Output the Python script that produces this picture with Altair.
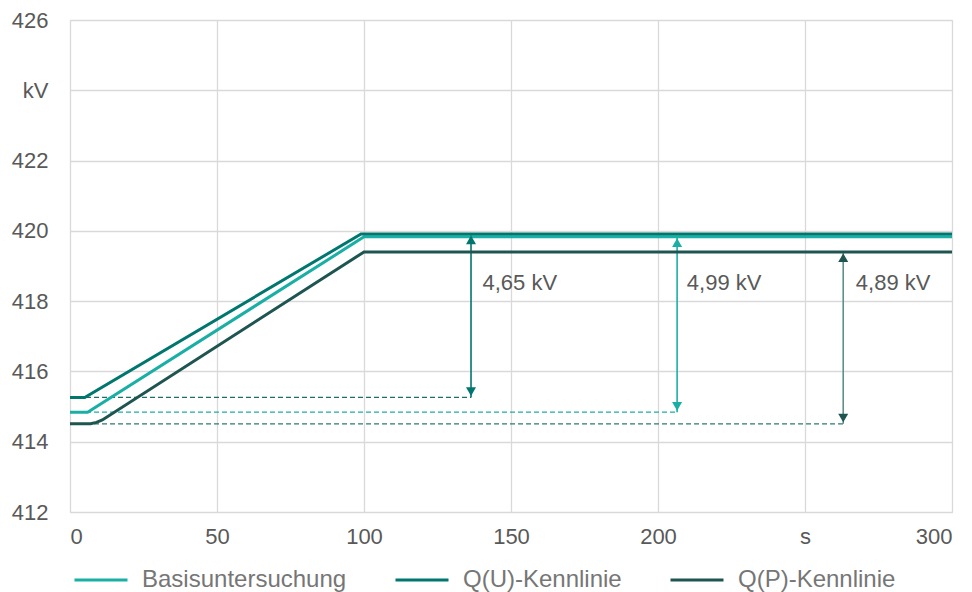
import altair as alt
import pandas as pd

# Series data (time in s, voltage in kV)
series_names = ["Basisuntersuchung", "Q(U)-Kennlinie", "Q(P)-Kennlinie"]
series_colors = ["#1AAFA5", "#00776E", "#1E5550"]

t_basis = [0, 6, 100, 300]
v_basis = [414.84, 414.84, 419.83, 419.83]
t_qu = [0, 5, 99, 300]
v_qu = [415.26, 415.26, 419.91, 419.91]
t_qp = [0, 7, 9, 11, 100, 300]
v_qp = [414.51, 414.51, 414.55, 414.62, 419.40, 419.40]

# Annotations (difference arrows)
ann_x = [136.4, 206.5, 263.0]
ann_low = [415.26, 414.84, 414.51]
ann_high = [419.91, 419.83, 419.40]
ann_text = ["4,65 kV", "4,99 kV", "4,89 kV"]
ann_text_x = [140.3, 209.8, 267.3]
ann_text_y = [418.52, 418.52, 418.52]
ann_shaft_color = ["#00776E", "#1AAFA5", "#5E8F8B"]
ann_head_color = ["#00776E", "#1AAFA5", "#1E5550"]
ann_dash_color = ["#1E6E68", "#1AAFA5", "#2F7A74"]

x_ticks = [0, 50, 100, 150, 200, 250, 300]
y_ticks = [412, 414, 416, 418, 420, 422, 424, 426]

rows = []
for name, ts, vs in [(series_names[0], t_basis, v_basis),
                     (series_names[1], t_qu, v_qu),
                     (series_names[2], t_qp, v_qp)]:
    for i, (t, v) in enumerate(zip(ts, vs)):
        rows.append({"series": name, "t": t, "v": v, "order": i})
df = pd.DataFrame(rows)

ann = pd.DataFrame({
    "x": ann_x, "low": ann_low, "high": ann_high, "text": ann_text,
    "tx": ann_text_x, "ty": ann_text_y,
    "shaft": ann_shaft_color, "head": ann_head_color, "dash": ann_dash_color,
    "x0": [0, 0, 0],
})

FONT = "Liberation Sans"
TXT = "#595959"

xscale = alt.Scale(domain=[0, 300], nice=False, zero=False)
yscale = alt.Scale(domain=[412, 426], nice=False, zero=False)

x_axis = alt.Axis(values=x_ticks, title=None, grid=True, gridColor="#D9D9D9",
                  gridWidth=1.3, domain=False, ticks=False, labelFont=FONT,
                  labelFontSize=22, labelColor=TXT, labelPadding=14,
                  labelExpr="datum.value == 250 ? 's' : datum.label")
y_axis = alt.Axis(values=y_ticks, title=None, grid=True, gridColor="#D9D9D9",
                  gridWidth=1.3, domain=False, ticks=False, labelFont=FONT,
                  labelFontSize=22, labelColor=TXT, labelPadding=22,
                  labelExpr="datum.value == 424 ? 'kV' : datum.label")

lines = alt.Chart(df).mark_line(strokeWidth=3).encode(
    x=alt.X("t:Q", scale=xscale, axis=x_axis),
    y=alt.Y("v:Q", scale=yscale, axis=y_axis),
    color=alt.Color("series:N",
                    scale=alt.Scale(domain=series_names, range=series_colors),
                    sort=series_names,
                    legend=alt.Legend(title=None, orient="none", legendX=3, legendY=532,
                                      direction="horizontal", columns=3,
                                      symbolType="stroke", symbolSize=2809,
                                      symbolStrokeWidth=3, labelOffset=13,
                                      columnPadding=42, labelFont=FONT,
                                      labelFontSize=24, labelColor="#767676",
                                      labelLimit=400, padding=0)),
    order="order:Q",
)

base = alt.Chart(ann)

dashes = base.mark_rule(strokeDash=[5, 3], strokeWidth=1.2).encode(
    x=alt.X("x0:Q", scale=xscale), x2="x:Q",
    y=alt.Y("low:Q", scale=yscale),
    color=alt.Color("dash:N", scale=None),
)

shafts = base.mark_rule(strokeWidth=1.6).encode(
    x=alt.X("x:Q", scale=xscale),
    y=alt.Y("low:Q", scale=yscale), y2="high:Q",
    color=alt.Color("shaft:N", scale=None),
)

heads_up = base.mark_point(shape="triangle-up", filled=True, size=100, opacity=1,
                           yOffset=5.8).encode(
    x=alt.X("x:Q", scale=xscale),
    y=alt.Y("high:Q", scale=yscale),
    color=alt.Color("head:N", scale=None),
)

heads_down = base.mark_point(shape="triangle-down", filled=True, size=100, opacity=1,
                             yOffset=-5.8).encode(
    x=alt.X("x:Q", scale=xscale),
    y=alt.Y("low:Q", scale=yscale),
    color=alt.Color("head:N", scale=None),
)

labels = base.mark_text(align="left", baseline="middle", font=FONT, fontSize=22,
                        color=TXT).encode(
    x=alt.X("tx:Q", scale=xscale),
    y=alt.Y("ty:Q", scale=yscale),
    text="text:N",
)

chart = alt.layer(dashes, shafts, lines, heads_up, heads_down, labels).properties(
    width=882, height=492,
    autosize=alt.AutoSizeParams(type="none"),
    padding={"left": 62, "top": 12, "right": 12, "bottom": 80},
).configure_view(stroke=None).configure(background="white")

chart.save("out.html", embed_options={"renderer": "svg", "actions": False})
